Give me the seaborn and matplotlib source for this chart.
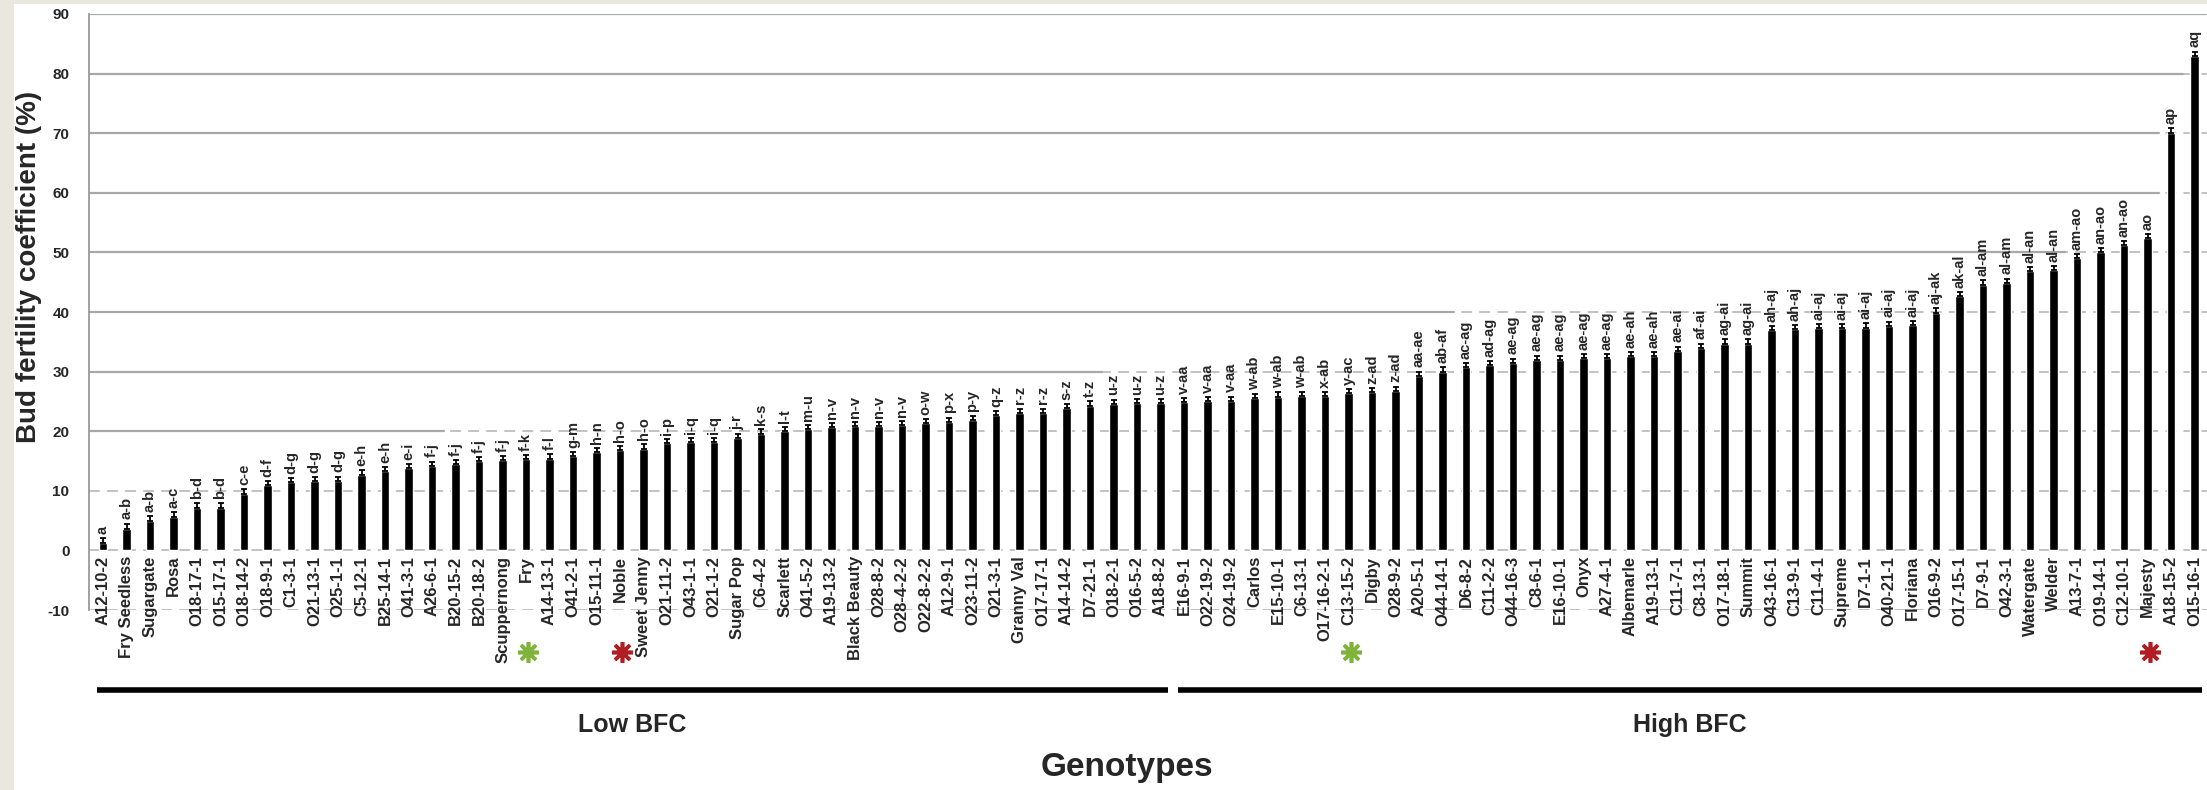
import numpy as np
import matplotlib
matplotlib.use("Agg")
import matplotlib.pyplot as plt
import matplotlib.transforms as mtransforms
from matplotlib.patches import Rectangle
import seaborn as sns

# genotypes, sorted by bud fertility coefficient
genotypes = [
    "A12-10-2", "Fry Seedless", "Sugargate", "Rosa", "O18-17-1", "O15-17-1", "O18-14-2", "O18-9-1", "C1-3-1", "O21-13-1",
    "O25-1-1", "C5-12-1", "B25-14-1", "O41-3-1", "A26-6-1", "B20-15-2", "B20-18-2", "Scuppernong", "Fry", "A14-13-1",
    "O41-2-1", "O15-11-1", "Noble", "Sweet Jenny", "O21-11-2", "O43-1-1", "O21-1-2", "Sugar Pop", "C6-4-2", "Scarlett",
    "O41-5-2", "A19-13-2", "Black Beauty", "O28-8-2", "O28-4-2-2", "O22-8-2-2", "A12-9-1", "O23-11-2", "O21-3-1", "Granny Val",
    "O17-17-1", "A14-14-2", "D7-21-1", "O18-2-1", "O16-5-2", "A18-8-2", "E16-9-1", "O22-19-2", "O24-19-2", "Carlos",
    "E15-10-1", "C6-13-1", "O17-16-2-1", "C13-15-2", "Digby", "O28-9-2", "A20-5-1", "O44-14-1", "D6-8-2", "C11-2-2",
    "O44-16-3", "C8-6-1", "E16-10-1", "Onyx", "A27-4-1", "Albemarle", "A19-13-1", "C11-7-1", "C8-13-1", "O17-18-1",
    "Summit", "O43-16-1", "C13-9-1", "C11-4-1", "Supreme", "D7-1-1", "O40-21-1", "Floriana", "O16-9-2", "O17-15-1",
    "D7-9-1", "O42-3-1", "Watergate", "Welder", "A13-7-1", "O19-14-1", "C12-10-1", "Majesty", "A18-15-2", "O15-16-1",
]

bfc = [
    1.3, 3.6, 4.9, 5.6, 7.2, 7.2, 9.4, 10.9, 11.4, 11.6,
    11.7, 12.7, 13.3, 13.8, 14.2, 14.5, 15.0, 15.1, 15.3, 15.4,
    15.8, 16.5, 16.8, 17.1, 18.0, 18.2, 18.2, 18.8, 19.6, 20.0,
    20.3, 20.7, 20.8, 20.8, 21.0, 21.3, 21.6, 21.8, 22.7, 23.1,
    23.1, 23.9, 24.3, 24.6, 24.7, 24.7, 24.9, 25.0, 25.1, 25.5,
    25.8, 25.9, 25.9, 26.4, 26.5, 26.8, 29.3, 30.0, 30.7, 31.1,
    31.5, 32.0, 32.0, 32.3, 32.3, 32.6, 32.6, 33.5, 34.0, 34.7,
    34.7, 37.0, 37.1, 37.3, 37.3, 37.4, 37.7, 37.8, 39.9, 42.7,
    44.6, 44.9, 46.8, 47.0, 49.0, 50.0, 51.2, 52.4, 70.1, 82.9,
]

err = [
    0.8, 0.9, 0.8, 0.9, 0.8, 0.8, 0.9, 0.8, 0.7, 0.7,
    0.7, 0.8, 0.7, 0.7, 0.7, 0.7, 0.7, 0.7, 0.7, 0.7,
    0.7, 0.7, 0.7, 0.7, 0.7, 0.7, 0.7, 0.7, 0.7, 0.7,
    0.7, 0.7, 0.7, 0.7, 0.7, 0.7, 0.7, 0.7, 0.7, 0.7,
    0.7, 0.7, 0.7, 0.7, 0.7, 0.7, 0.7, 0.7, 0.7, 0.7,
    0.7, 0.7, 0.7, 0.7, 0.7, 0.7, 0.7, 0.7, 0.7, 0.7,
    0.7, 0.7, 0.7, 0.7, 0.7, 0.7, 0.7, 0.7, 0.7, 0.7,
    0.7, 0.7, 0.7, 0.7, 0.7, 0.7, 0.7, 0.7, 0.7, 0.7,
    0.7, 0.7, 0.7, 0.7, 0.7, 0.7, 0.7, 0.7, 0.8, 0.8,
]

letters = [
    "a", "a-b", "a-b", "a-c", "b-d", "b-d", "c-e", "d-f", "d-g", "d-g",
    "d-g", "e-h", "e-h", "e-i", "f-j", "f-j", "f-j", "f-j", "f-k", "f-l",
    "g-m", "h-n", "h-o", "h-o", "i-p", "i-q", "i-q", "j-r", "k-s", "l-t",
    "m-u", "n-v", "n-v", "n-v", "n-v", "o-w", "p-x", "p-y", "q-z", "r-z",
    "r-z", "s-z", "t-z", "u-z", "u-z", "u-z", "v-aa", "v-aa", "v-aa", "w-ab",
    "w-ab", "w-ab", "x-ab", "y-ac", "z-ad", "z-ad", "aa-ae", "ab-af", "ac-ag", "ad-ag",
    "ae-ag", "ae-ag", "ae-ag", "ae-ag", "ae-ag", "ae-ah", "ae-ah", "ae-ai", "af-ai", "ag-ai",
    "ag-ai", "ah-aj", "ah-aj", "ai-aj", "ai-aj", "ai-aj", "ai-aj", "ai-aj", "aj-ak", "ak-al",
    "al-am", "al-am", "al-an", "al-an", "am-ao", "an-ao", "an-ao", "ao", "ap", "aq",
]

# groups below the axis
group_names = ["Low BFC", "High BFC"]
group_first = ["A12-10-2", "E16-9-1"]
group_last = ["A18-8-2", "O15-16-1"]

# highlighted genotypes (asterisks)
marked = ["Fry", "Noble", "C13-15-2", "Majesty"]
marked_colors = ["#7FB33A", "#B01E23", "#7FB33A", "#B01E23"]

y_ticks = [-10, 0, 10, 20, 30, 40, 50, 60, 70, 80, 90]
# grid lines drawn solid from the left up to this genotype, dashed afterwards
solid_grid_until = {20: "A26-6-1", 30: "D7-21-1", 40: "O44-14-1", 50: "Welder",
                    60: "Majesty", 70: "Majesty", 80: "A18-15-2", 90: "O15-16-1"}

sns.set_theme(style="white")
plt.rcParams['font.family'] = ['Liberation Sans', 'DejaVu Sans']
plt.rcParams['font.weight'] = 'bold'

fig = plt.figure(figsize=(22.07, 7.9), dpi=100)
fig.patch.set_facecolor('#EAE7DE')
fig.patches.append(Rectangle((14 / 2207, 0), 1, 1 - 4 / 790, transform=fig.transFigure,
                             facecolor='white', edgecolor='none', zorder=-10))

ax = fig.add_axes([0.0403, 0.2278, 0.9597, 0.7545])
ax.set_facecolor('none')

x = np.arange(len(genotypes))
xmin, xmax = -0.6, len(genotypes) - 0.47

# grid
for lv in y_ticks:
    ax.plot([xmin, xmax], [lv, lv], color='#BDBDBD', lw=1.3, ls=(0, (6, 4)), zorder=0)
    if lv in solid_grid_until:
        end = genotypes.index(solid_grid_until[lv]) + 0.5
        ax.plot([xmin, end], [lv, lv], color='#A8A8A8', lw=1.6, zorder=0.5)

sns.barplot(x=genotypes, y=bfc, color='black', width=0.36, errorbar=None,
            saturation=1, ax=ax, zorder=2)
ax.errorbar(x, bfc, yerr=[np.zeros(len(err)), err], fmt='none', ecolor='black',
            elinewidth=1.3, capsize=2, capthick=1.3, zorder=3)

for xi, v, e, lab in zip(x, bfc, err, letters):
    ax.annotate(lab, (xi, v + e), xytext=(0, 3), textcoords='offset points',
                rotation=90, ha='center', va='bottom', fontsize=10.5, fontweight='bold')

# x axis sits on the zero line (set before the tick labels, it resets ticks)
ax.spines['bottom'].set_position(('data', 0))
for s in ['bottom', 'top', 'right']:
    ax.spines[s].set_visible(False)
ax.spines['left'].set_color('#9A9A9A')
ax.spines['left'].set_linewidth(1.3)

ax.set_xlim(xmin, xmax)
ax.set_ylim(-10, 90)
ax.set_yticks(y_ticks)
ax.set_yticklabels([str(t) for t in y_ticks], fontsize=11, fontweight='bold')
ax.set_xticks(x)
ax.set_xticklabels(genotypes, rotation=90, fontsize=12, fontweight='bold')
ax.tick_params(axis='x', length=0, pad=4, labelrotation=90)
ax.tick_params(axis='y', length=0, pad=14)

ax.set_ylabel("Bud fertility coefficient (%)", fontsize=20, fontweight='bold')
ax.yaxis.set_label_coords(-0.022, 0.575)
ax.set_xlabel("")

trans = mtransforms.blended_transform_factory(ax.transData, ax.transAxes)
for name, first, last in zip(group_names, group_first, group_last):
    i0 = genotypes.index(first)
    i1 = genotypes.index(last)
    x0 = i0 - 0.25
    x1 = min(i1 + 0.32, xmax)
    ax.plot([x0, x1], [-0.134, -0.134], color='black', lw=4, transform=trans,
            clip_on=False, solid_capstyle='butt')
    ax.text((x0 + x1) / 2, -0.193, name, transform=trans, ha='center', va='center',
            fontsize=18, fontweight='bold')

for name, col in zip(marked, marked_colors):
    ax.plot(genotypes.index(name) + 0.1, -0.07, marker=(8, 2, 0), ms=15, mew=2.6,
            color=col, transform=trans, clip_on=False)

fig.text(0.5106, 0.029, "Genotypes", ha='center', va='center', fontsize=24, fontweight='bold')

fig.savefig('out.png', dpi=100, facecolor=fig.get_facecolor())
